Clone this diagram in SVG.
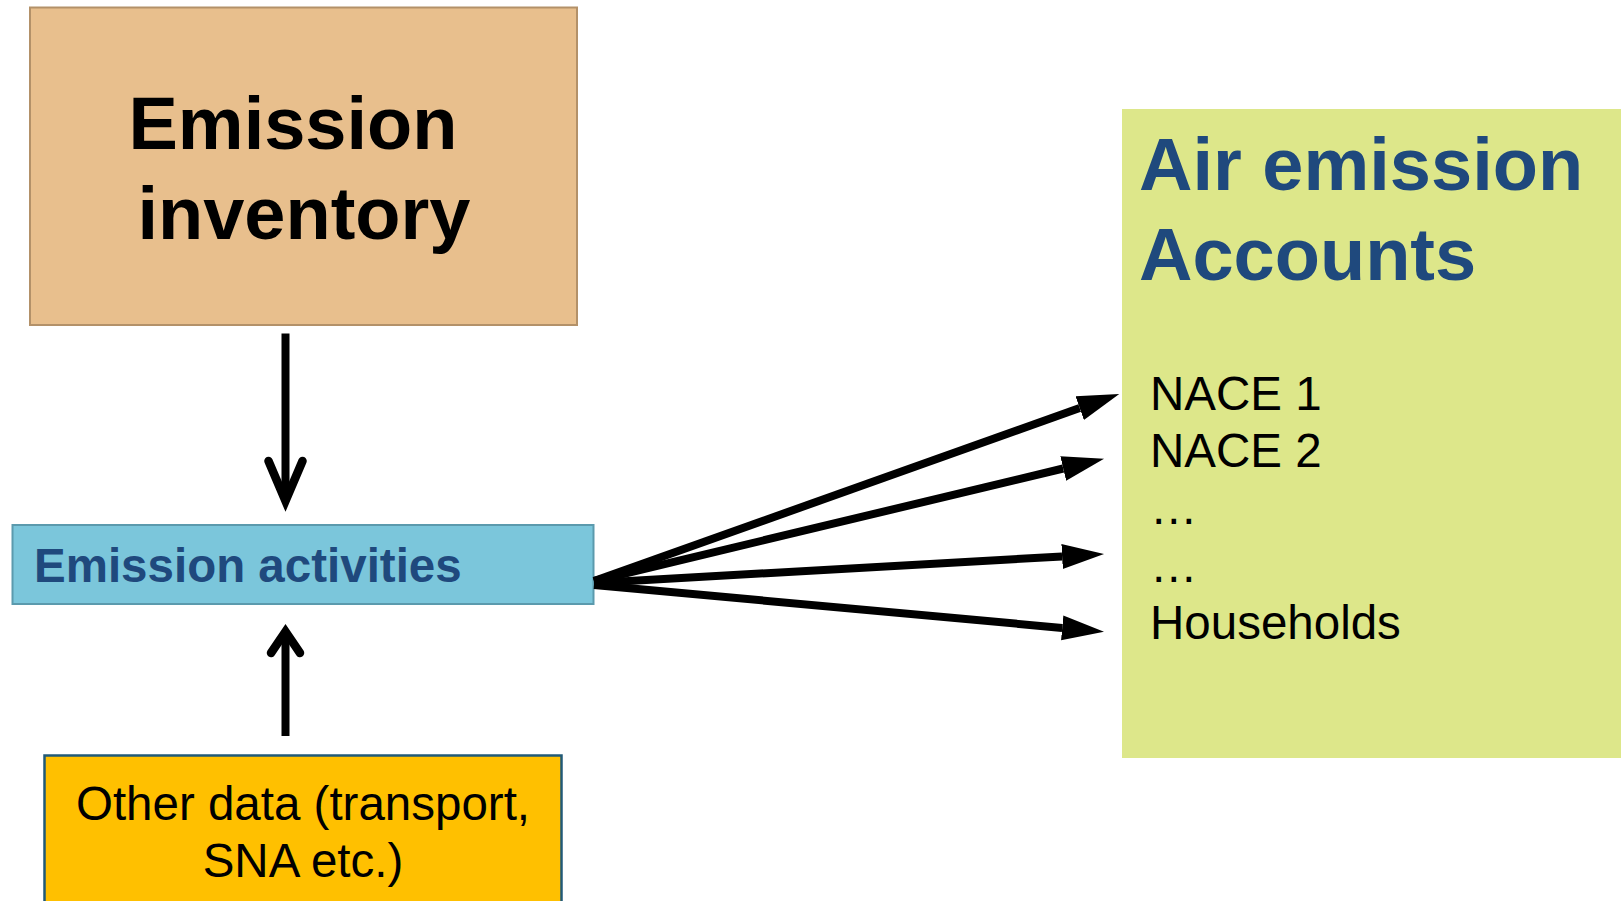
<svg xmlns="http://www.w3.org/2000/svg" width="1621" height="901" viewBox="0 0 1621 901">
<style>
.bold{font-family:"Liberation Sans",Arial,sans-serif;font-weight:bold}
.reg{font-family:"Liberation Sans",Arial,sans-serif}
.shaft{stroke:#000;stroke-width:8;fill:none}
.vhead{stroke:#000;stroke-width:8.5;fill:none;stroke-linecap:round;stroke-linejoin:miter;stroke-miterlimit:10}
</style>
<defs>
<marker id="tri" markerUnits="userSpaceOnUse" markerWidth="44" markerHeight="28" viewBox="0 -14 44 28" refX="0" refY="0" orient="auto">
<path d="M0,-12.5 L42,0 L0,12.5 z" fill="#000"/>
</marker>
</defs>
<rect width="1621" height="901" fill="#fff"/>
<g id="emission-inventory">
<rect x="30" y="7.5" width="547" height="317.5" fill="#E8BF8D" stroke="#B39169" stroke-width="2"/>
<text class="bold" font-size="74" x="293" y="149" text-anchor="middle">Emission</text>
<text class="bold" font-size="74" x="304" y="239" text-anchor="middle">inventory</text>
</g>
<g id="emission-activities">
<rect x="12.5" y="525" width="581" height="79" fill="#7BC6DB" stroke="#5B9AAD" stroke-width="2"/>
<text class="bold" font-size="47.5" x="34" y="582" fill="#1F497D">Emission activities</text>
</g>
<g id="other-data">
<rect x="44.5" y="755.5" width="517" height="160" fill="#FFC000" stroke="#215A78" stroke-width="2.5"/>
<text class="reg" font-size="47.5" x="303" y="820" text-anchor="middle">Other data (transport,</text>
<text class="reg" font-size="47.5" x="303" y="877" text-anchor="middle">SNA etc.)</text>
</g>
<g id="air-emission-accounts">
<rect x="1122" y="109" width="499" height="649" fill="#DDE78A"/>
<text class="bold" font-size="74" x="1139" y="190" fill="#1F497D">Air emission</text>
<text class="bold" font-size="74" x="1139" y="280" fill="#1F497D">Accounts</text>
<text class="reg" font-size="47.5" x="1150" y="410">NACE 1</text>
<text class="reg" font-size="47.5" x="1150" y="467">NACE 2</text>
<text class="reg" font-size="47.5" x="1150" y="524">…</text>
<text class="reg" font-size="47.5" x="1150" y="582">…</text>
<text class="reg" font-size="47.5" x="1150" y="639">Households</text>
</g>
<g id="connectors">
<line class="shaft" x1="285.5" y1="333.5" x2="285.5" y2="500"/>
<path class="vhead" d="M268.5,461 L285.5,501 L302.5,461"/>
<line class="shaft" x1="285.5" y1="736" x2="285.5" y2="632"/>
<path class="vhead" d="M271,653 L285.5,631.5 L300,653"/>
<line class="shaft" x1="594" y1="581" x2="1079.7" y2="408.1" marker-end="url(#tri)"/>
<line class="shaft" x1="594" y1="581" x2="1063.2" y2="468.5" marker-end="url(#tri)"/>
<line class="shaft" x1="594" y1="583" x2="1062.1" y2="556.4" marker-end="url(#tri)"/>
<line class="shaft" x1="594" y1="585" x2="1062.2" y2="627.9" marker-end="url(#tri)"/>
</g>
</svg>
